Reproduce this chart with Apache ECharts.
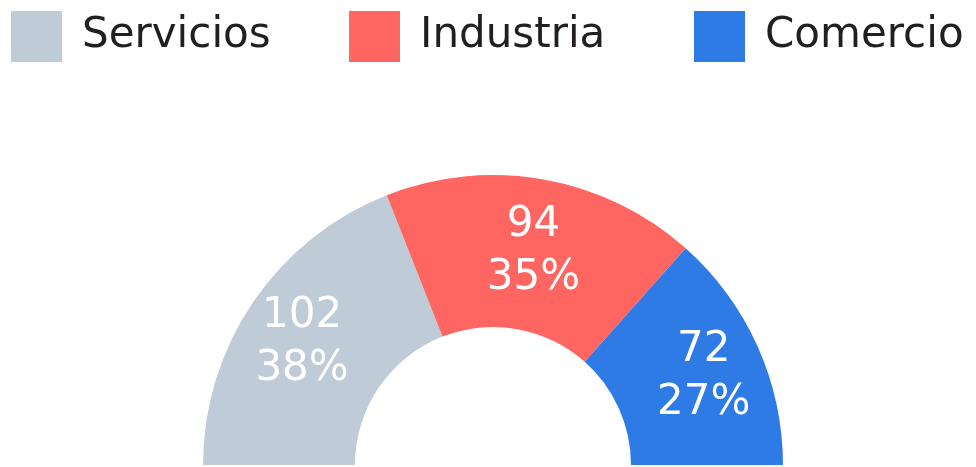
<!DOCTYPE html>
<html>
<head>
<meta charset="utf-8">
<style>
  html, body { margin: 0; padding: 0; background: #fff; }
  #chart { width: 976px; height: 467px; }
</style>
<script src="https://cdn.jsdelivr.net/npm/echarts@6/dist/echarts.min.js"></script>
</head>
<body>
<div id="chart"></div>
<script>
// datos del gráfico
var categories = ['Servicios', 'Industria', 'Comercio'];
var values = [102, 94, 72];
var colors = ['#BFCCD7', '#FF6561', '#2E7BE6'];

var chart = echarts.init(document.getElementById('chart'));

var pieCenter = [493, 465];
var legendLeft = [11, 349, 694];

var data = categories.map(function (name, i) {
    return { name: name, value: values[i], itemStyle: { color: colors[i] } };
});

// una leyenda por categoría para fijar la posición de cada una
var legends = categories.map(function (name, i) {
    return {
        left: legendLeft[i],
        top: 11,
        padding: 0,
        itemWidth: 51,
        itemHeight: 51,
        icon: 'rect',
        selectedMode: false,
        data: [name],
        textStyle: {
            fontFamily: 'DejaVu Sans',
            fontSize: 42,
            color: '#231F20',
            padding: [0, 0, 0, 15]
        }
    };
});

var option = {
    animation: false,
    legend: legends,
    series: [{
        type: 'pie',
        center: pieCenter,
        radius: [138, 290],
        startAngle: 180,
        endAngle: 360,
        percentPrecision: 0,
        silent: true,
        itemStyle: { borderWidth: 0 },
        label: {
            show: true,
            position: 'inside',
            formatter: '{c}\n{d}%',
            color: '#fff',
            fontFamily: 'DejaVu Sans',
            fontSize: 42,
            lineHeight: 53
        },
        // separar un poco las etiquetas hacia los lados
        labelLayout: function (params) {
            var r = params.labelRect;
            var cx = r.x + r.width / 2;
            var cy = r.y + r.height / 2;
            var dx = cx - pieCenter[0];
            var dy = cy - pieCenter[1];
            var d = Math.sqrt(dx * dx + dy * dy);
            return { x: cx + 14 * dx / d, y: cy };
        },
        labelLine: { show: false },
        data: data
    }]
};

chart.setOption(option);
</script>
</body>
</html>
